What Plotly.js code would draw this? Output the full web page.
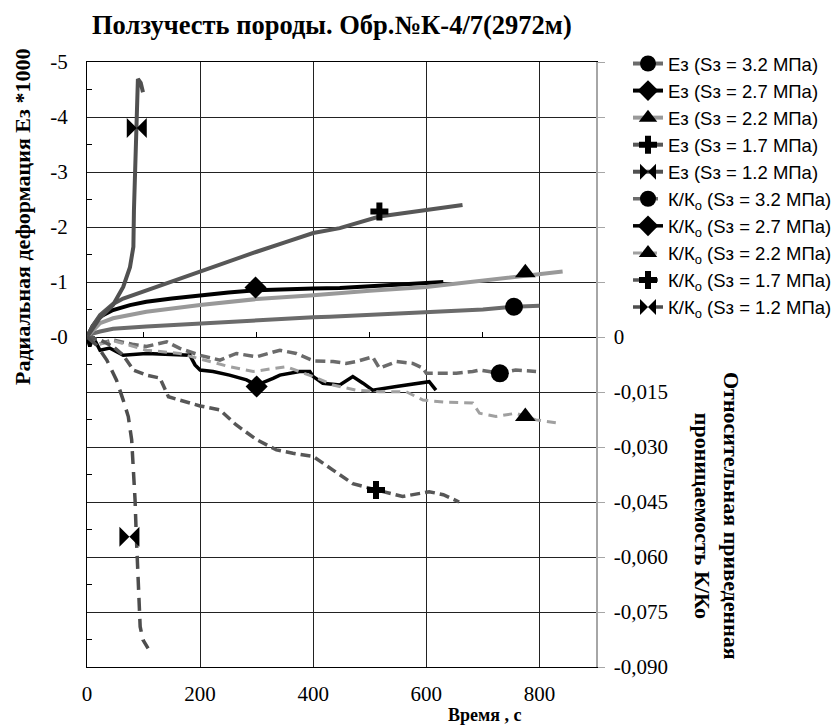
<!DOCTYPE html>
<html>
<head>
<meta charset="utf-8">
<script src="https://cdn.plot.ly/plotly-3.0.1.min.js"></script>
<style>html,body{margin:0;padding:0;background:#fff;}#chart{width:840px;height:727px;}</style>
</head>
<body>
<div id="chart"></div>
<script>
// ---- Radial deformation E3*1000 (left axis) ----
const e32_t = [0, 10, 23, 46, 105, 200, 300, 400, 429, 500, 600, 700, 755, 800];
const e32_v = [0, -0.06, -0.1, -0.15, -0.19, -0.25, -0.31, -0.36, -0.37, -0.40, -0.44, -0.50, -0.55, -0.57];
const e27_t = [0, 10, 23, 46, 76, 105, 150, 200, 250, 300, 350, 400, 447, 500, 547, 600, 630];
const e27_v = [0, -0.2, -0.37, -0.49, -0.58, -0.64, -0.70, -0.76, -0.81, -0.85, -0.87, -0.88, -0.89, -0.92, -0.95, -0.99, -1.0];
const e22_t = [0, 10, 23, 46, 105, 200, 300, 400, 447, 500, 600, 700, 775, 841];
const e22_v = [0, -0.12, -0.25, -0.34, -0.46, -0.58, -0.69, -0.76, -0.79, -0.84, -0.91, -1.03, -1.12, -1.19];
const e17_t = [0, 10, 23, 46, 64, 105, 150, 200, 250, 300, 350, 400, 447, 517, 600, 664];
const e17_v = [0, -0.2, -0.4, -0.6, -0.7, -0.85, -1.02, -1.19, -1.37, -1.55, -1.72, -1.89, -1.98, -2.19, -2.31, -2.4];
const e12_t = [0, 23, 46, 64, 76, 82, 83, 85, 87, 89, 90, 95, 99];
const e12_v = [0, -0.35, -0.58, -0.91, -1.27, -1.64, -2.3, -2.9, -3.8, -4.4, -4.69, -4.62, -4.45];

// ---- Relative permeability K/Ko (right axis) ----
const k32_t = [0, 20, 46, 80, 105, 141, 164, 200, 235, 264, 300, 341, 370, 400, 435, 458, 476, 505, 517, 547, 576, 594, 600, 635, 653, 682, 694, 730, 758, 794];
const k32_v = [0, -0.002, -0.0008, -0.002, -0.0026, -0.0013, -0.0031, -0.005, -0.0063, -0.0045, -0.0054, -0.0036, -0.0045, -0.0065, -0.0067, -0.0072, -0.0067, -0.0054, -0.0085, -0.0067, -0.0072, -0.0085, -0.0099, -0.0099, -0.0099, -0.0094, -0.009, -0.0099, -0.009, -0.0094];
const k27_t = [0, 5, 11, 23, 40, 64, 105, 150, 182, 191, 200, 223, 252, 282, 300, 329, 341, 376, 394, 400, 417, 447, 470, 488, 505, 547, 588, 605, 617];
const k27_v = [0, -0.0026, 0, -0.0036, -0.003, -0.005, -0.0045, -0.0048, -0.005, -0.0076, -0.009, -0.0094, -0.0104, -0.0117, -0.0131, -0.0113, -0.0104, -0.0094, -0.0094, -0.0108, -0.0126, -0.0131, -0.0108, -0.0126, -0.0145, -0.0135, -0.0126, -0.0122, -0.0145];
const k22_t = [0, 20, 46, 105, 164, 200, 252, 294, 352, 400, 435, 476, 517, 564, 594, 635, 682, 694, 723, 758, 794, 835];
const k22_v = [0, -0.002, -0.001, -0.0036, -0.0045, -0.006, -0.0081, -0.0094, -0.0081, -0.0108, -0.0131, -0.0145, -0.0149, -0.0149, -0.0172, -0.0178, -0.018, -0.0208, -0.0217, -0.0208, -0.0226, -0.0235];
const k17_t = [0, 23, 46, 64, 82, 105, 129, 144, 164, 200, 235, 264, 300, 335, 364, 400, 435, 470, 511, 558, 605, 630, 658];
const k17_v = [0, -0.0008, -0.0026, -0.005, -0.009, -0.0104, -0.0112, -0.0163, -0.0172, -0.0188, -0.0199, -0.024, -0.028, -0.0308, -0.0317, -0.0326, -0.0363, -0.04, -0.0417, -0.0435, -0.0422, -0.043, -0.045];
const k12_t = [0, 17, 35, 52, 64, 73, 79, 82, 85, 87, 89, 91, 94, 99, 108];
const k12_v = [0, -0.0022, -0.0063, -0.0117, -0.0172, -0.0217, -0.0281, -0.0354, -0.0445, -0.0535, -0.0626, -0.0717, -0.079, -0.0826, -0.0849];

// ---- marker points (one per series) ----
const markE_t = [755, 298, 775, 517, 88];
const markE_v = [-0.55, -0.90, -1.17, -2.28, -3.8];
const markK_t = [730, 300, 775, 511, 75];
const markK_v = [-0.0099, -0.0135, -0.0217, -0.0417, -0.0545];

// ---- labels ----
const namesE = ['Eз (Sз = 3.2 MПа)', 'Eз (Sз = 2.7 MПа)', 'Eз (Sз = 2.2 MПа)', 'Eз (Sз = 1.7 MПа)', 'Eз (Sз = 1.2 MПа)'];
const namesK = ['К/К<sub>о</sub> (Sз = 3.2 MПа)', 'К/К<sub>о</sub> (Sз = 2.7 MПа)', 'К/К<sub>о</sub> (Sз = 2.2 MПа)', 'К/К<sub>о</sub> (Sз = 1.7 MПа)', 'К/К<sub>о</sub> (Sз = 1.2 MПа)'];
const xTickVals = [0, 200, 400, 600, 800];
const xMinorVals = [100, 300, 500, 700];
const leftTickVals = [-5, -4, -3, -2, -1, 0, 1, 2, 3, 4, 5, 6];
const leftTickText = ['-5', '-4', '-3', '-2', '-1', '-0', '', '', '', '', '', ''];
const leftMinorVals = [-4.5, -3.5, -2.5, -1.5, -0.5, 0.5, 1.5, 2.5, 3.5, 4.5, 5.5];
const rightTickVals = [0.075, 0.06, 0.045, 0.03, 0.015, 0, -0.015, -0.03, -0.045, -0.06, -0.075, -0.09];
const rightTickText = ['', '', '', '', '', '0', '-0,015', '-0,030', '-0,045', '-0,060', '-0,075', '-0,090'];

// ---- styles ----
const eStyle = [
  {color: '#6b6b6b', width: 4, dash: 'solid', symbol: 'circle', size: 18},
  {color: '#000000', width: 4, dash: 'solid', symbol: 'diamond', size: 17},
  {color: '#999999', width: 4, dash: 'solid', symbol: 'triangle-up', size: 18},
  {color: '#575757', width: 4, dash: 'solid', symbol: 'cross', size: 15},
  {color: '#505050', width: 4, dash: 'solid', symbol: 'bowtie', size: 20}
];
const kStyle = [
  {color: '#6b6b6b', width: 3.5, dash: '10px,5px', symbol: 'circle', size: 18},
  {color: '#000000', width: 3.5, dash: 'solid', symbol: 'diamond', size: 17},
  {color: '#a0a0a0', width: 3, dash: '9px,6px', symbol: 'triangle-up', size: 18},
  {color: '#575757', width: 3.5, dash: '10px,5px', symbol: 'cross', size: 15},
  {color: '#4d4d4d', width: 3.5, dash: '13px,8px', symbol: 'bowtie', size: 20}
];

const eT = [e32_t, e27_t, e22_t, e17_t, e12_t];
const eV = [e32_v, e27_v, e22_v, e17_v, e12_v];
const kT = [k32_t, k27_t, k22_t, k17_t, k12_t];
const kV = [k32_v, k27_v, k22_v, k17_v, k12_v];

const traces = [];
// helper trace that makes the centre time axis (minor ticks on the zero line) exist
traces.push({x: [null], y: [null], xaxis: 'x2', yaxis: 'y', type: 'scatter', mode: 'lines', showlegend: false, hoverinfo: 'skip'});
for (let i = 0; i < 5; i++) {
  traces.push({x: eT[i], y: eV[i], yaxis: 'y', type: 'scatter', mode: 'lines', showlegend: false,
    hoverinfo: 'skip', line: {color: eStyle[i].color, width: eStyle[i].width, dash: eStyle[i].dash}});
}
for (let i = 0; i < 5; i++) {
  traces.push({x: kT[i], y: kV[i], yaxis: 'y2', type: 'scatter', mode: 'lines', showlegend: false,
    hoverinfo: 'skip', line: {color: kStyle[i].color, width: kStyle[i].width, dash: kStyle[i].dash}});
}
for (let i = 0; i < 5; i++) {
  traces.push({x: [markE_t[i]], y: [markE_v[i]], yaxis: 'y', type: 'scatter', mode: 'lines+markers', name: namesE[i],
    line: {color: eStyle[i].color, width: eStyle[i].width, dash: eStyle[i].dash},
    marker: {color: '#000', symbol: eStyle[i].symbol, size: eStyle[i].size}});
}
for (let i = 0; i < 5; i++) {
  traces.push({x: [markK_t[i]], y: [markK_v[i]], yaxis: 'y2', type: 'scatter', mode: 'lines+markers', name: namesK[i],
    line: {color: kStyle[i].color, width: kStyle[i].width, dash: kStyle[i].dash},
    marker: {color: '#000', symbol: kStyle[i].symbol, size: kStyle[i].size}});
}

const serif = "'Liberation Serif'";
const gridC = '#222222';
const layout = {
  width: 840, height: 727,
  margin: {l: 87, r: 244, t: 62, b: 60},
  paper_bgcolor: '#fff', plot_bgcolor: '#fff',
  showlegend: true,
  title: {text: '<b>Ползучесть породы. Обр.№К-4/7(2972м)</b>', font: {family: serif, size: 26.5, color: '#000'},
    x: 92 / 840, xanchor: 'left', xref: 'container', y: 1 - 25 / 727, yanchor: 'middle', yref: 'container'},
  xaxis: {range: [0, 900], tickmode: 'array', tickvals: xTickVals, showgrid: true, gridcolor: gridC, gridwidth: 1,
    showline: true, linecolor: '#000', linewidth: 1, mirror: true, ticks: '', zeroline: false,
    tickfont: {family: serif, size: 21, color: '#000'}, ticklabelstandoff: 8},
  xaxis2: {range: [0, 900], overlaying: 'x', anchor: 'free', position: 6 / 11, side: 'bottom',
    tickmode: 'array', tickvals: xMinorVals, ticks: 'inside', ticklen: 5, tickcolor: '#000', tickwidth: 1,
    showticklabels: false, showgrid: false, showline: false, zeroline: false},
  yaxis: {range: [6, -5], tickmode: 'array', tickvals: leftTickVals, ticktext: leftTickText,
    showgrid: true, gridcolor: gridC, gridwidth: 1, zeroline: true, zerolinecolor: '#000', zerolinewidth: 1,
    showline: true, linecolor: '#000', linewidth: 1, ticks: '',
    minor: {tickmode: 'array', tickvals: leftMinorVals, ticks: 'inside', ticklen: 5, tickcolor: '#000', showgrid: false},
    tickfont: {family: serif, size: 21, color: '#000'}, ticklabelstandoff: 14},
  yaxis2: {range: [-0.09, 0.075], overlaying: 'y', side: 'right', anchor: 'x', tickmode: 'array',
    tickvals: rightTickVals, ticktext: rightTickText, showgrid: false, zeroline: false,
    showline: true, linecolor: '#a6a6a6', linewidth: 1.5, ticks: 'outside', ticklen: 7, tickcolor: '#a6a6a6',
    tickfont: {family: serif, size: 21, color: '#000'}, ticklabelstandoff: 5},
  legend: {xref: 'container', yref: 'container', x: 628 / 840, xanchor: 'left', y: 1 - 45 / 727, yanchor: 'top',
    bgcolor: 'rgba(0,0,0,0)',
    font: {family: "'Liberation Sans'", size: 18.5, color: '#000'}, tracegroupgap: 0, itemwidth: 30},
  annotations: [
    {text: '<b>Радиальная деформация Eз *1000</b>', xref: 'paper', yref: 'paper', x: (22 - 87) / 509, y: (667 - 217) / 605,
      textangle: -90, showarrow: false, xanchor: 'center', yanchor: 'middle', font: {family: serif, size: 22, color: '#000'}},
    {text: '<b>Относительная приведенная<br>проницаемость К/Ко</b>', xref: 'paper', yref: 'paper', x: (717 - 87) / 509, y: (667 - 516) / 605,
      textangle: 90, showarrow: false, xanchor: 'center', yanchor: 'middle', font: {family: serif, size: 22, color: '#000'}},
    {text: '<b>Время , с</b>', xref: 'paper', yref: 'paper', x: (485 - 87) / 509, y: (667 - 715) / 605,
      showarrow: false, xanchor: 'center', yanchor: 'middle', font: {family: serif, size: 18, color: '#000'}}
  ]
};

Plotly.newPlot('chart', traces, layout, {displayModeBar: false, staticPlot: true});
</script>
</body>
</html>
